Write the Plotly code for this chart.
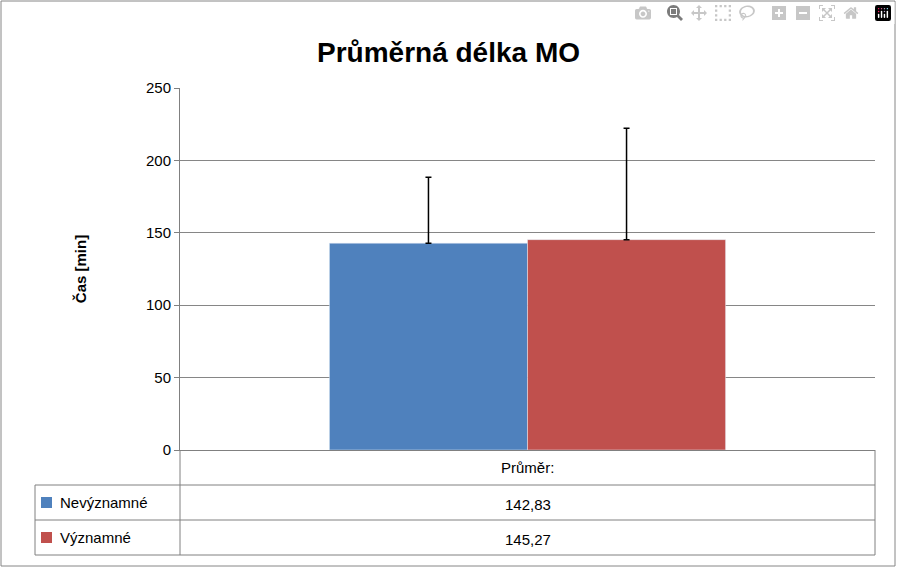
import plotly.graph_objects as go

# data
series = ["Nevýznamné", "Významné"]
means = [142.83, 145.27]
err_plus = [45.5, 77.0]
colors = ["#4F81BD", "#C0504D"]
category = ["Průměr:"]
y_ticks = [0, 50, 100, 150, 200, 250]

W, H = 897, 568
L, R, T, B = 180, 875, 88, 450  # plot area in px


def px_x(x):
    return (x - L) / (R - L)


def px_y(y):
    return (B - y) / (B - T)


fig = go.Figure()
for name, m, e, c in zip(series, means, err_plus, colors):
    fig.add_bar(
        x=category, y=[m], name=name, marker_color=c,
        error_y=dict(type="data", symmetric=False, array=[e], arrayminus=[0],
                     color="black", thickness=1.5, width=3),
    )

fnt = "Liberation Sans"
shapes = []
line = dict(color="#808080", width=1)
for y in [485, 520, 555]:
    shapes.append(dict(type="line", xref="paper", yref="paper",
                       x0=px_x(35), x1=px_x(R), y0=px_y(y), y1=px_y(y), line=line))
for x, ytop in [(L, B), (R, B), (35, 485)]:
    shapes.append(dict(type="line", xref="paper", yref="paper",
                       x0=px_x(x), x1=px_x(x), y0=px_y(ytop), y1=px_y(555), line=line))
# chart outer border
shapes.append(dict(type="rect", xref="paper", yref="paper",
                   x0=px_x(1), x1=px_x(W - 2), y0=px_y(1), y1=px_y(H - 2),
                   line=dict(color="#868686", width=1)))

annotations = [dict(text=category[0], xref="paper", yref="paper", x=0.5, y=px_y(467),
                    yanchor="middle", showarrow=False,
                    font=dict(family=fnt, size=15, color="black"))]
for i, (name, m, c) in enumerate(zip(series, means, colors)):
    yc = 502 + 35 * i
    shapes.append(dict(type="rect", xref="paper", yref="paper",
                       x0=px_x(41), x1=px_x(52), y0=px_y(yc - 5), y1=px_y(yc + 6),
                       fillcolor=c, line=dict(width=0)))
    annotations.append(dict(text=name, xref="paper", yref="paper", x=px_x(58), y=px_y(yc),
                            xanchor="left", yanchor="middle", showarrow=False,
                            font=dict(family=fnt, size=15, color="black")))
    annotations.append(dict(text=f"{m:.2f}".replace(".", ","), xref="paper", yref="paper",
                            x=0.5, y=px_y(yc + 2), yanchor="middle", showarrow=False,
                            font=dict(family=fnt, size=15, color="black")))

fig.update_layout(
    width=W, height=H,
    margin=dict(l=L, r=W - R, t=T, b=H - B),
    paper_bgcolor="white", plot_bgcolor="white",
    barmode="group", bargap=0.43, bargroupgap=0,
    showlegend=False,
    title=dict(text="<b>Průměrná délka MO</b>", x=0.5, xanchor="center", y=0.925,
               font=dict(family=fnt, size=28, color="black")),
    font=dict(family=fnt, size=15, color="black"),
    xaxis=dict(showticklabels=False, showline=True, linecolor="#808080"),
    yaxis=dict(range=[0, 250], tickvals=y_ticks, showgrid=True, gridcolor="#868686",
               showline=True, linecolor="#808080", ticks="outside", ticklen=5,
               tickcolor="#808080", zeroline=False,
               title=dict(text="<b>Čas [min]</b>", font=dict(size=15), standoff=55)),
    shapes=shapes, annotations=annotations,
)
fig.write_html("out.html", post_script="document.body.style.margin='0';")
